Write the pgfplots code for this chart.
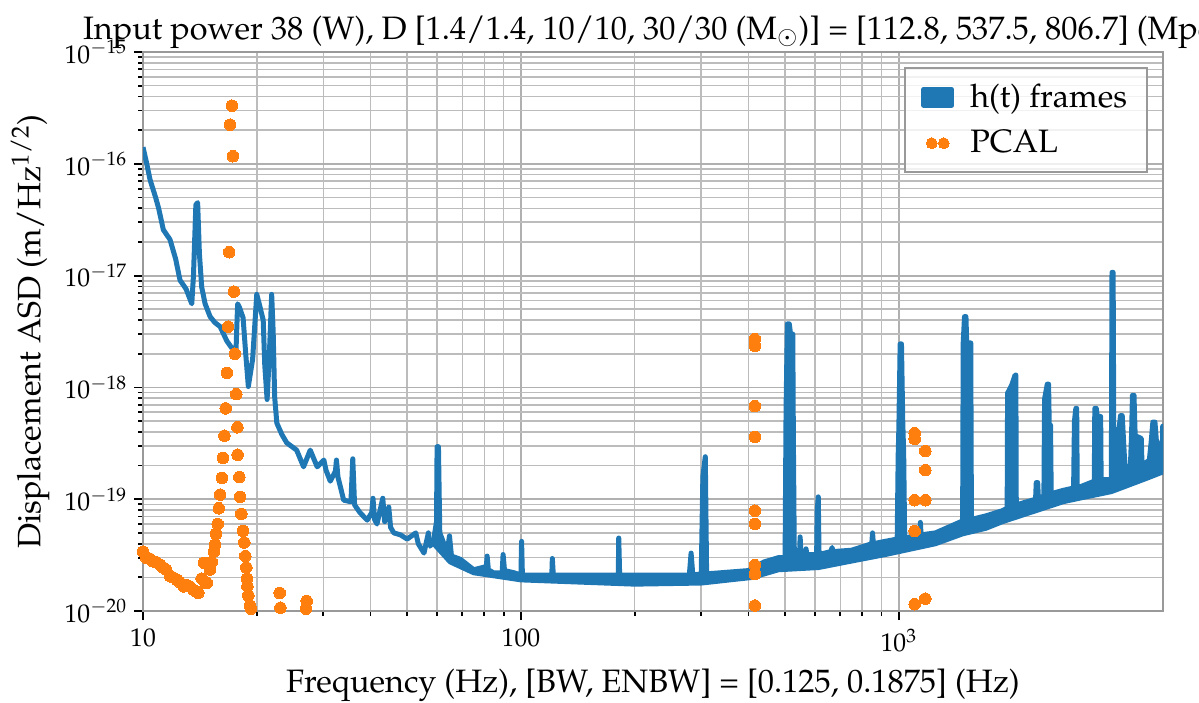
\documentclass[border=0pt]{standalone}
\usepackage[T1]{fontenc}
\usepackage{mathpazo}
\usepackage{pgfplots}
\pgfplotsset{compat=1.18}
\definecolor{c0}{HTML}{1F77B4}
\definecolor{c1}{HTML}{FF7F0E}
\definecolor{gridc}{HTML}{B0B0B0}
\newcommand{\fs}{\fontsize{16.2}{19}\selectfont}
\newcommand{\ft}{\fontsize{12.8}{15}\selectfont}

\begin{document}
\begin{tikzpicture}
\begin{axis}[
  at={(0,0)}, anchor=south west,
  scale only axis, width=510pt, height=279.5pt,
  xmode=log, ymode=log,
  xmin=10, xmax=5000, ymin=1e-20, ymax=1e-15,
  xtick={10,100,1000}, xticklabels={$10$,$100$,$10^3$},
  ytick={1e-20,1e-19,1e-18,1e-17,1e-16,1e-15},
  grid=both,
  major grid style={gridc, line width=0.9pt},
  minor grid style={gridc!85, line width=0.8pt},
  axis line style={black!40, line width=1.3pt},
  tick align=outside, tick pos=left,
  major tick length=4.5pt, minor tick length=2.5pt,
  every tick/.append style={black, line width=0.9pt},
  tick label style={font=\ft},
  xticklabel style={yshift=-1pt},
  title={Input power 38 (W), D [1.4/1.4, 10/10, 30/30 ($\mathrm{M}_{\odot}$)] = [112.8, 537.5, 806.7] (Mpc)},
  title style={font=\fs, yshift=-8pt},
  xlabel={Frequency (Hz), [BW, ENBW] = [0.125, 0.1875] (Hz)},
  ylabel={Displacement ASD (m/Hz$^{1/2}$)},
  label style={font=\fs},
  xlabel style={at={(axis description cs:0.5,0)}, anchor=center, yshift=-37pt},
  ylabel style={at={(axis description cs:-0.1108,0.5)}, anchor=center},
  legend style={at={(1,1)}, anchor=north east, xshift=-7.5pt, yshift=-7.5pt,
    draw=black!40, line width=1pt, fill=white, fill opacity=0.8, text opacity=1, draw opacity=1,
    font=\fs, row sep=6pt, column sep=6pt, inner xsep=8pt, inner ysep=6pt},
  legend cell align=left,
]

% h(t) frames, low-frequency part
\addplot[c0, line width=2.5pt, line join=round, forget plot] coordinates {
(10.0,1.41e-16) (10.2,1.05e-16) (10.44,7.2e-17) (10.8,5.0e-17) (11.0,4.0e-17)
(11.32,2.57e-17) (11.79,2.1e-17) (12.2,1.41e-17) (12.53,9.1e-18) (13.0,7.6e-18)
(13.46,5.6e-18) (13.6,1.0e-17) (13.8,4.3e-17) (13.95,4.5e-17) (14.1,1.58e-17)
(14.3,7.9e-18) (14.6,5.6e-18) (15.05,4.3e-18) (15.5,3.8e-18) (16.0,3.5e-18)
(16.67,2.6e-18) (17.2,2.24e-18) (17.6,1.86e-18) (17.8,5.6e-18) (18.0,5.2e-18)
(18.4,4.2e-18) (18.7,2.0e-18) (19.0,1.02e-18) (19.5,1.78e-18) (20.0,6.8e-18)
(20.3,5.6e-18) (20.8,4.0e-18) (21.0,1.58e-18) (21.3,7.8e-19) (21.6,2.0e-18)
(21.9,6.8e-18) (22.1,3.2e-18) (22.3,8.3e-19) (22.6,4.8e-19) (23.3,3.8e-19)
(24.0,3.2e-19) (25.5,2.75e-19) (26.6,1.95e-19) (27.7,2.75e-19) (28.9,1.95e-19)
(30.1,2.24e-19) (30.5,1.82e-19) (31.3,1.45e-19) (32.3,1.78e-19) (32.5,2.24e-19)
(32.8,1.58e-19) (33.97,9.8e-20) (35.5,9.5e-20) (35.9,2.3e-19) (36.3,8.9e-20)
(37.5,7.6e-20) (39.2,6.5e-20) (40.3,7.6e-20) (40.6,1.02e-19) (41.0,6.6e-20)
(41.6,6.0e-20) (43.1,1.02e-19) (43.6,6.3e-20) (44.7,8.5e-20) (45.2,5.6e-20)
(46.1,5.0e-20) (48.0,4.8e-20) (50.0,4.4e-20) (52.7,5.0e-20) (53.5,4.0e-20)
(55.4,3.3e-20) (56.9,5.0e-20) (57.5,3.8e-20) (58.8,4.4e-20)
};

% h(t) frames, upper and lower envelope
\addplot[c0, fill=c0, line width=2.5pt, line join=round,
  legend image code/.code={\fill[c0, fill opacity=1] (0pt,-4pt) rectangle (14pt,4pt);}] coordinates {
(58.8,4.4e-20) (59.8,6.3e-20) (60.0,2.95e-19) (60.5,2.95e-19) (61.0,5.0e-20)
(61.9,4.4e-20) (63.8,3.3e-20) (64.7,4.7e-20) (65.5,3.1e-20) (69.2,2.9e-20)
(75.0,2.34e-20) (81.0,2.5e-20) (81.4,3.1e-20) (82.0,2.34e-20) (84.6,2.2e-20)
(89.2,2.2e-20) (89.7,3.2e-20) (90.5,2.3e-20) (95.9,2.2e-20) (100.0,2.1e-20)
(100.4,4.2e-20) (100.9,2.1e-20) (120.7,2.1e-20) (121.1,2.95e-20) (121.8,2.1e-20)
(163,2.1e-20) (181,2.1e-20) (181.5,4.5e-20) (182.5,2.1e-20) (244,2.1e-20)
(279,2.1e-20) (282,3.3e-20) (285,2.1e-20) (300,2.15e-20) (303,1.6e-19)
(307.5,2.4e-19) (310,2.15e-20) (400,2.3e-20) (440,2.75e-20) (480,3.0e-20)
(500,3.0e-20) (503,6.3e-19) (507,3.7e-18) (513,3.7e-18) (517,3.0e-18)
(524,3.0e-18) (526,3.2e-19) (529,3.0e-20) (546,3.2e-20) (548,4.6e-20)
(551,3.2e-20) (566,3.2e-20) (568,3.6e-20) (571,3.2e-20) (606,3.2e-20)
(608,7.9e-20) (612,1.05e-19) (615,3.2e-20) (660,3.4e-20) (666,3.7e-20)
(669,3.4e-20) (750,3.5e-20) (848,4.0e-20) (852,5.0e-20) (856,4.0e-20)
(920,4.2e-20) (990,4.4e-20) (996,2.5e-19) (1000,4.3e-19) (1008,2.45e-18)
(1016,2.45e-18) (1024,5.0e-19) (1030,2.5e-19) (1036,4.5e-20) (1135,4.8e-20)
(1140,6.2e-20) (1145,4.8e-20) (1250,5.0e-20) (1460,6.3e-20) (1475,6.3e-20)
(1480,2.5e-18) (1492,4.3e-18) (1505,4.3e-18) (1512,2.5e-18) (1550,2.5e-18)
(1556,6.6e-20) (1700,7.1e-20) (1880,7.9e-20) (1935,8.3e-20) (1940,8.9e-19)
(1990,1.05e-18) (2030,1.29e-18) (2040,1.29e-18) (2045,8.9e-20) (2300,1.0e-19)
(2310,1.41e-19) (2330,1.41e-19) (2340,1.02e-19) (2420,1.07e-19) (2430,7.9e-19)
(2470,1.07e-18) (2490,1.07e-18) (2500,4.6e-19) (2520,4.6e-19) (2530,1.12e-19)
(2720,1.2e-19) (2900,1.26e-19) (2915,5.0e-19) (2940,6.5e-19) (2955,6.5e-19)
(2965,1.26e-19) (3290,1.45e-19) (3300,6.5e-19) (3330,6.5e-19) (3350,5.5e-19)
(3420,5.5e-19) (3430,1.5e-19) (3650,1.5e-19) (3665,1.07e-17) (3690,1.07e-17)
(3705,3.2e-19) (3790,3.2e-19) (3860,5.6e-19) (3900,5.6e-19) (3950,2.5e-19)
(3975,1.9e-19) (4100,2.0e-19) (4130,4.0e-19) (4150,8.5e-19) (4190,8.5e-19)
(4220,3.7e-19) (4380,3.5e-19) (4400,2.0e-19) (4600,2.24e-19) (4650,3.2e-19)
(4700,4.9e-19) (4760,4.9e-19) (4800,3.4e-19) (4840,3.2e-19) (4870,2.24e-19)
(4980,2.4e-19) (4990,4.5e-19) (5050,4.5e-19)
(5050,1.78e-19) (4550,1.55e-19) (3650,1.17e-19) (3000,1.02e-19) (2720,9.5e-20)
(1880,6.3e-20) (1700,5.5e-20) (1474,4.9e-20) (1250,4.0e-20) (920,3.2e-20)
(750,2.8e-20) (613,2.45e-20) (480,2.34e-20) (410,2.0e-20) (300,1.78e-20)
(200,1.74e-20) (100,1.9e-20) (75,2.2e-20) (65,2.75e-20) (58.8,4.0e-20)
};
\addlegendentry{h(t) frames}

% PCAL
\addplot[c1, only marks, mark=*, mark size=2.9pt, mark options={draw=c1, fill=c1, line width=0pt},
  legend image code/.code={\draw[mark size=2.7pt, fill opacity=1] plot coordinates {(4pt,0pt) (10pt,0pt)};}] coordinates {
(10.0,3.4e-20) (10.2,3.0e-20) (10.4,2.95e-20) (10.6,2.8e-20) (10.8,2.75e-20)
(11.1,2.6e-20) (11.3,2.45e-20) (11.5,2.35e-20) (11.8,2.05e-20) (12.0,2.0e-20)
(12.3,1.9e-20) (12.5,1.82e-20) (12.8,1.66e-20) (13.0,1.7e-20) (13.3,1.66e-20)
(13.6,1.55e-20) (13.9,1.48e-20) (14.0,1.45e-20) (14.3,1.95e-20) (14.5,2.7e-20)
(14.6,1.82e-20) (14.75,1.78e-20) (15.05,2.35e-20) (15.2,2.75e-20) (15.4,3.4e-20)
(15.5,3.9e-20) (15.6,4.9e-20) (15.76,6.0e-20) (15.87,8.3e-20) (16.0,1.1e-19)
(16.17,1.55e-19) (16.27,2.34e-19) (16.42,3.7e-19) (16.55,6.5e-19) (16.67,1.35e-18)
(16.8,3.5e-18) (16.9,1.62e-17) (17.0,2.24e-16) (17.19,3.31e-16) (17.3,1.17e-16)
(17.4,7.2e-18) (17.5,2.0e-18) (17.65,8.7e-19) (17.78,4.4e-19) (17.8,2.5e-19)
(17.99,1.58e-19) (18.07,1.05e-19) (18.2,7.4e-20) (18.4,5.2e-20) (18.54,4.1e-20)
(18.65,3.1e-20) (18.77,2.45e-20) (18.84,1.95e-20) (18.9,1.66e-20) (19.0,1.38e-20)
(19.2,1.12e-20) (19.3,1.05e-20) (23.0,1.45e-20) (23.1,1.07e-20) (27.1,1.23e-20)
(27.0,1.05e-20)
(416,2.7e-18) (416,2.35e-18) (416,6.8e-19) (416,3.6e-19) (416,7.9e-20)
(416,6.0e-20) (416,2.57e-20) (416,2.14e-20) (416,1.12e-20)
(1101,3.9e-19) (1101,3.47e-19) (1101,9.8e-20) (1101,5.2e-20) (1101,1.15e-20)
(1175,2.7e-19) (1175,1.82e-19) (1175,9.8e-20) (1175,1.29e-20)
};
\addlegendentry{PCAL}

\end{axis}
\pgfresetboundingbox
\useasboundingbox (-71.5pt,-45.5pt) rectangle (528pt,305.5pt);
\end{tikzpicture}
\end{document}
